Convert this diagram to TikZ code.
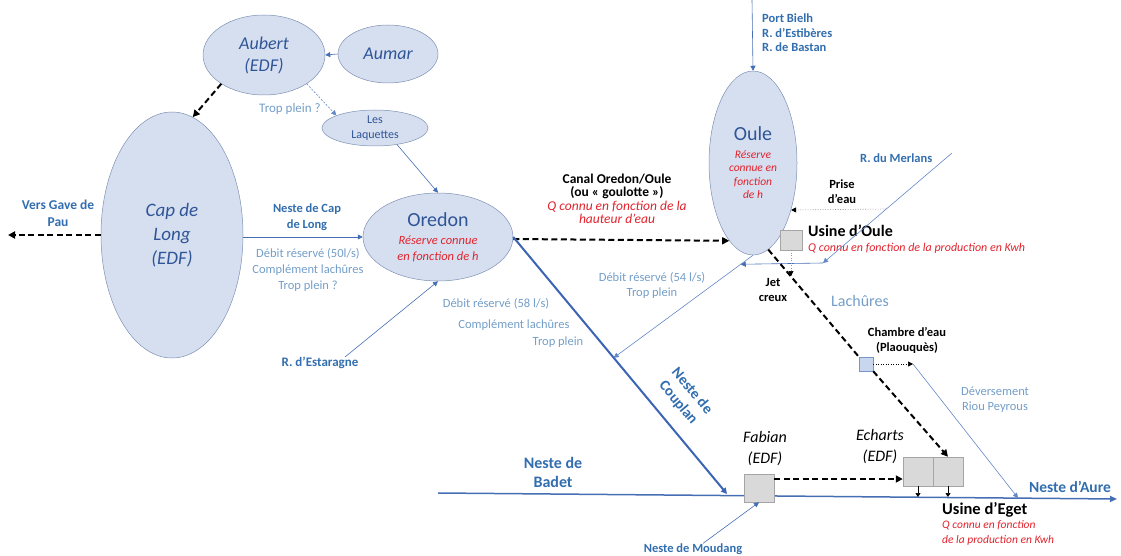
\documentclass[tikz,border=0pt]{standalone}
\usepackage{fontspec}
\setmainfont{Carlito}
\usetikzlibrary{arrows.meta,shapes.geometric,calc}
\definecolor{resfill}{RGB}{214,223,240}
\definecolor{resdraw}{RGB}{125,145,180}
\definecolor{tblue}{RGB}{47,85,151}
\definecolor{lblue}{RGB}{50,110,175}
\definecolor{pblue}{RGB}{115,158,200}
\definecolor{rred}{RGB}{225,35,45}
\definecolor{cblue}{RGB}{70,110,180}
\definecolor{mblue}{RGB}{100,135,200}
\definecolor{tkblue}{RGB}{60,100,180}
\definecolor{gbox}{RGB}{217,217,217}
\definecolor{gboxd}{RGB}{165,165,165}
\definecolor{chfill}{RGB}{200,215,238}
\definecolor{chdraw}{RGB}{120,150,200}
\definecolor{dgray}{RGB}{150,150,150}
\newcommand{\redit}[1]{{\color{rred}\mdseries\itshape #1}}
\tikzset{
  res/.style={ellipse, draw=resdraw, fill=resfill, line width=0.5pt, inner sep=0pt, align=center, text=tblue},
  lbl/.style={font=\bfseries\fontsize{12.5}{14.5}\selectfont, text=lblue, align=center, inner sep=0pt},
  plbl/.style={font=\fontsize{12.5}{16}\selectfont, text=pblue, align=center, inner sep=0pt},
  blbl/.style={font=\bfseries\fontsize{12.5}{15}\selectfont, text=black, align=center, inner sep=0pt},
  gboxs/.style={draw=gboxd, fill=gbox, line width=0.5pt, inner sep=0pt, minimum width=30pt, minimum height=29pt},
  conn/.style={draw=cblue, line width=0.6pt, -{Triangle[length=5pt,width=5pt]}},
  connl/.style={draw=mblue, line width=0.6pt, -{Triangle[length=5pt,width=5pt]}},
  tpdash/.style={draw=mblue, line width=0.6pt, dash pattern=on 2pt off 1.5pt, -{Triangle[length=5pt,width=5pt]}},
  bdash/.style={draw=black, line width=2pt, dash pattern=on 6pt off 3.5pt, -{Triangle[length=7pt,width=7pt]}},
  bdashn/.style={draw=black, line width=2pt, dash pattern=on 6pt off 3.5pt},
  dotg/.style={draw=dgray, line width=0.6pt, dash pattern=on 1pt off 1.5pt, -{Triangle[length=5pt,width=5pt,color=black]}},
  dotb/.style={draw=black, line width=0.7pt, dash pattern=on 1pt off 1.5pt, -{Triangle[length=5pt,width=5pt]}},
  thickb/.style={draw=tkblue, line width=2pt, -{Triangle[length=6pt,width=6pt]}},
  mainb/.style={draw=cblue, line width=1.5pt, -{Triangle[length=7pt,width=6pt]}},
  smallar/.style={draw=black, line width=0.6pt, -{Triangle[length=4pt,width=5pt]}}
}
\begin{document}
\begin{tikzpicture}[x=1pt,y=-1pt]
\useasboundingbox (0,0) rectangle (1121,556);

% main river line (drawn first, under boxes)
\coordinate (bstart) at (438,493);
\coordinate (aend) at (1117,499);
\draw[mainb] (bstart) -- (aend);

% reservoirs
\node[res, minimum width=122pt, minimum height=80pt, font=\itshape\fontsize{18}{22}\selectfont] (aubert) at (264,55) {Aubert\\(EDF)};
\node[res, minimum width=100pt, minimum height=58pt, font=\itshape\fontsize{18}{22}\selectfont] (aumar) at (388,54) {Aumar};
\node[res, minimum width=106pt, minimum height=36pt, font=\fontsize{12}{14.5}\selectfont] (laq) at (375,128) {Les\\Laquettes};
\node[res, minimum width=142pt, minimum height=246pt, font=\itshape\fontsize{19}{24}\selectfont] (cap) at (172,235) {Cap de\\Long\\(EDF)};
\node[res, minimum width=150pt, minimum height=88pt, font=\fontsize{12.5}{16}\selectfont] (oredon) at (438,237) {{\fontsize{20}{22}\selectfont Oredon}\\[2pt]\redit{Réserve connue}\\\redit{en fonction de h}};
\node[res, minimum width=88pt, minimum height=184pt, font=\fontsize{11.5}{13.5}\selectfont] (oule) at (753,163) {{\fontsize{20}{24}\selectfont Oule}\\[4pt]\redit{Réserve}\\\redit{connue en}\\\redit{fonction}\\\redit{de h}};

% boxes
\node[gboxs, minimum width=22pt, minimum height=20pt] (uo) at (791,240) {};
\node[draw=chdraw, fill=chfill, line width=0.5pt, inner sep=0pt, minimum size=14pt] (chbox) at (866,364) {};
\node[gboxs, minimum height=28pt] (fab) at (759,488) {};
\node[gboxs] (e1) at (918,471.5) {};
\node[gboxs] (e2) at (948,471.5) {};

% labels
\node[plbl, font=\fontsize{13}{16}\selectfont] (tropA) at (290,109) {Trop plein ?};
\node[lbl, font=\bfseries\fontsize{13.5}{17}\selectfont] (vers) at (58,213) {Vers Gave de\\Pau};
\node[lbl, font=\bfseries\fontsize{12.5}{15.5}\selectfont] (ncl) at (307,217) {Neste de Cap\\de Long};
\node[plbl] (dbcl) at (308,270) {Débit réservé (50l/s)\\Complément lachûres\\Trop plein ?};
\node[lbl, font=\bfseries\fontsize{13}{15}\selectfont] (estar) at (320,363) {R. d’Estaragne};
\node[blbl, font=\bfseries\fontsize{13.5}{13.5}\selectfont] (canal) at (617,199) {Canal Oredon/Oule\\(ou « goulotte »)\\\redit{Q connu en fonction de la}\\\redit{hauteur d’eau}};
\node[lbl, align=left, anchor=west] (port) at (762,33) {Port Bielh\\R. d’Estibères\\R. de Bastan};
\node[lbl, anchor=west] (merltxt) at (860,158) {R. du Merlans};
\node[blbl] (prise) at (842,192) {Prise\\d’eau};
\node[font=\bfseries\fontsize{16}{18}\selectfont, anchor=west, inner sep=0pt] (uot) at (808,231) {Usine d’Oule};
\node[font=\itshape\fontsize{12}{14}\selectfont, text=rred, anchor=west, inner sep=0pt] (uoq) at (808,248) {Q connu en fonction de la production en Kwh};
\node[blbl] (jet) at (773,290) {Jet\\creux};
\node[plbl, font=\fontsize{16}{18}\selectfont] (lach) at (860,301) {Lachûres};
\node[plbl, font=\fontsize{12.5}{15}\selectfont] (db54) at (652,285) {Débit réservé (54 l/s)\\Trop plein};
\node[plbl] (db58a) at (496,304) {Débit réservé (58 l/s)};
\node[plbl] (db58b) at (514,325) {Complément lachûres};
\node[plbl] (db58c) at (558,342) {Trop plein};
\node[blbl] (cht) at (907,340) {Chambre d’eau\\(Plaouquès)};
\node[plbl, font=\fontsize{12.5}{15}\selectfont] (dev) at (995,400) {Déversement\\Riou Peyrous};
\node[lbl, font=\bfseries\fontsize{15}{18}\selectfont, rotate=-50] (couplan) at (685,397) {Neste de\\Couplan};
\node[lbl, font=\bfseries\fontsize{16}{19}\selectfont] (badet) at (553,472) {Neste de\\Badet};
\node[font=\itshape\fontsize{16}{21}\selectfont, align=center, inner sep=0pt] (fabt) at (765,449) {Fabian\\(EDF)};
\node[font=\itshape\fontsize{16}{21}\selectfont, align=center, inner sep=0pt] (echt) at (880,447) {Echarts\\(EDF)};
\node[font=\bfseries\fontsize{16.5}{18}\selectfont, anchor=west, inner sep=0pt] (eget) at (942,510) {Usine d’Eget};
\node[font=\itshape\fontsize{11.5}{15}\selectfont, text=rred, align=left, anchor=west, inner sep=0pt] (egetq) at (942,533) {Q connu en fonction\\de la production en Kwh};
\node[lbl, font=\bfseries\fontsize{15.5}{18}\selectfont] (aure) at (1070,487) {Neste d’Aure};
\node[lbl] (moud) at (693,549) {Neste de Moudang};

% coordinates
\coordinate (vend) at (8,235);
\coordinate (ptop) at (752,0);
\coordinate (cpl) at (727,494);
\coordinate (c54) at ($(oredon.east)!0.47!(cpl)$);
\coordinate (mj) at ($(oule.south)!0.088!(c54)$);
\coordinate (mtop) at (952,153);
\coordinate (mr) at (823,263);
\coordinate (pr) at (886,209);
\coordinate (uoj) at (791,276);
\coordinate (chout) at (913,364);
\coordinate (dvend) at (1018,498);
\coordinate (e1j) at (918,497);
\coordinate (e2j) at (948,497);

% connectors
\draw[conn] (aumar.west) -- (aubert.east);
\draw[tpdash] (aubert.-34) -- (laq.162);
\draw[bdash] (aubert.-146) -- (cap.80);
\draw[conn] (laq.-37) -- (oredon.north);
\draw[bdash] (cap.west) -- (vend);
\draw[conn] (cap.east |- oredon.west) -- (oredon.west);
\draw[conn] ($(estar.north)+(25,0)$) -- (oredon.south);
\draw[bdash] ($(oredon.east)+(0,2)$) -- (oule.-107);
\draw[thickb] (oredon.east) -- (cpl);
\draw[conn] (ptop) -- (oule.north);
\draw[connl] (oule.south) -- (c54);
\draw[connl] (mtop) -- (mr);
\draw[conn] (mr) -- (mj);
\draw[dotg] (pr) -- (oule.-51);
\draw[bdashn] (oule.-80) -- (chbox.north west);
\draw[bdash] (chbox.south east) -- (e2.north);
\draw[dotg] (uo.south) -- (uoj);
\draw[dotb] (chbox.east) -- (chout);
\draw[connl] (chout) -- (dvend);
\draw[bdash] ($(fab.east)+(0,-9)$) -- ($(e1.west)+(0,7.5)$);
\draw[smallar] (e1.south) -- (e1j);
\draw[smallar] (e2.south) -- (e2j);
\draw[conn] ($(moud.north)+(10,0)$) -- (fab.south);
\end{tikzpicture}
\end{document}
